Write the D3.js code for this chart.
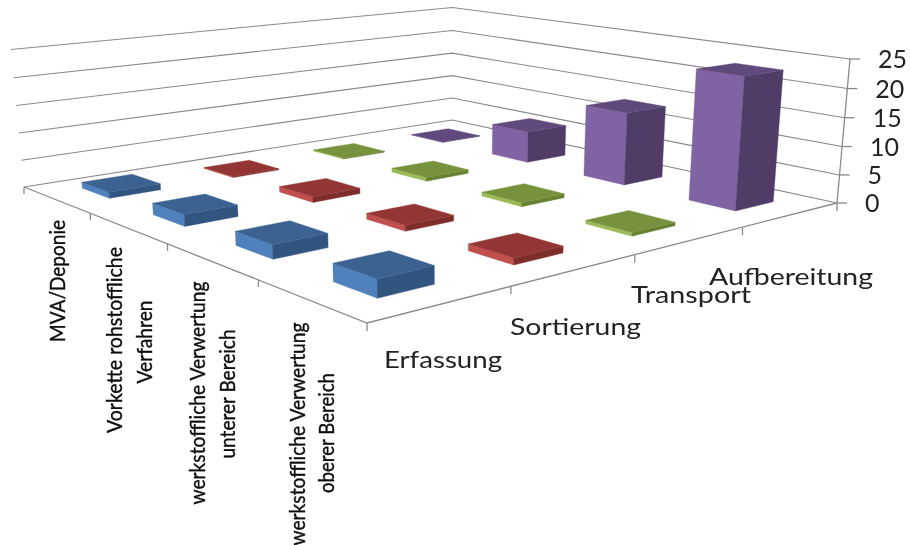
<!DOCTYPE html>
<html><head><meta charset="utf-8">
<script src="https://cdn.jsdelivr.net/npm/d3@7"></script>
<style>html,body{margin:0;padding:0;background:#fff}svg{display:block}</style>
</head><body><svg id="c" width="910" height="545"></svg>
<script>
// ---- data ----
const seriesNames = ["Erfassung","Sortierung","Transport","Aufbereitung"];
const categoryNames = ["MVA/Deponie","Vorkette rohstoffliche Verfahren","werkstoffliche Verwertung unterer Bereich","werkstoffliche Verwertung oberer Bereich"];
const erfassung = [1.1, 2.0, 2.3, 2.8];
const sortierung = [0.2, 1.0, 1.0, 1.1];
const transport = [0.2, 0.7, 0.7, 0.6];
const aufbereitung = [0.1, 6.0, 13.3, 23.0];
const valueTicks = [0,5,10,15,20,25];
const categoryLines = [["MVA/Deponie"],["Vorkette rohstoffliche","Verfahren"],["werkstoffliche Verwertung","unterer Bereich"],["werkstoffliche Verwertung","oberer Bereich"]];

// ---- styles / layout ----
const faceColors = [
 {left:"#4f81bd",top:"#3b6290",right:"#31547f"},
 {left:"#c0504d",top:"#943634",right:"#7d2e2c"},
 {left:"#9bbb59",top:"#76923c",right:"#668132"},
 {left:"#8064a2",top:"#604a7b",right:"#503e68"}];
const cam = {F:[367,323],R:[837,203],L:[24,187],B:[452,120],Rt:[850,59],Lt:[11,48]};
const catLabelLayout = [
 [{x:65,cy:281,len:122}],
 [{x:122,cy:340,len:186},{x:152,cy:342,len:83}],
 [{x:205,cy:393,len:223},{x:235,cy:394,len:129}],
 [{x:305,cy:434,len:223},{x:334,cy:433,len:120}]];
const seriesLabelLayout = [{x:384,y:368,len:118},{x:510,y:335,len:131},{x:631,y:303,len:120},{x:709,y:285,len:164}];

// ---- projection (homography from box corners) ----
const {F,R,L,B,Rt,Lt} = cam;
const det = (R[0]-B[0])*(L[1]-B[1])-(L[0]-B[0])*(R[1]-B[1]);
const a = ((F[0]-B[0])*(L[1]-B[1])-(L[0]-B[0])*(F[1]-B[1]))/det;
const b = ((R[0]-B[0])*(F[1]-B[1])-(F[0]-B[0])*(R[1]-B[1]))/det;
const vw = ((Lt[0]*b-L[0]*b)-(Rt[0]*a-R[0]*a))/(Rt[0]-Lt[0]);
const vx = Rt[0]*(a+vw)-a*R[0];
const vy = Rt[1]*(a+vw)-a*R[1];
function P(x,y,z){
  const X=F[0]+x*(a*R[0]-F[0])+y*(b*L[0]-F[0])+z*vx;
  const Y=F[1]+x*(a*R[1]-F[1])+y*(b*L[1]-F[1])+z*vy;
  const W=1+x*(a-1)+y*(b-1)+z*vw;
  return [X/W,Y/W];
}
const xBand = d3.scaleBand().domain(seriesNames).range([0,1]).paddingInner(0.6).paddingOuter(0.3);
const yBand = d3.scaleBand().domain(categoryNames.slice().reverse()).range([0,1]).paddingInner(0.6).paddingOuter(0.3);
const zScale = d3.scaleLinear().domain([0,25]).range([0,1]);
const xTick = d3.scaleLinear().domain([0,4]).range([0,1]);

const svg = d3.select("#c");
const defs = svg.append("defs");
defs.append("filter").attr("id","soft").attr("x","-5%").attr("y","-5%").attr("width","110%").attr("height","110%")
  .append("feGaussianBlur").attr("stdDeviation",0.55);
const g = svg.append("g").attr("filter","url(#soft)");
const line = d3.line();
const axisColor="#8a8a8a";

// walls
const grid = g.append("g").attr("fill","none").attr("stroke",axisColor).attr("stroke-width",1.1);
grid.selectAll("path").data(valueTicks).join("path")
  .attr("d",v=>{const z=zScale(v);return line([P(0,1,z),P(1,1,z),P(1,0,z)]);});

// axes
const axes = g.append("g").attr("fill","none").attr("stroke",axisColor).attr("stroke-width",1.3);
axes.append("path").attr("d",line([P(0,1,0),P(0,0,0),P(1,0,0)]));
axes.append("path").attr("d",line([P(1,0,0),P(1,0,1)]));
axes.selectAll(".tx").data(d3.range(0,5)).join("path").attr("class","tx")
  .attr("d",i=>{const p=P(xTick(i),0,0);return line([p,[p[0],p[1]+8]]);});
axes.selectAll(".ty").data(d3.range(1,5)).join("path").attr("class","ty")
  .attr("d",i=>{const p=P(0,xTick(i),0);return line([p,[p[0],p[1]+7]]);});
axes.selectAll(".tz").data(valueTicks).join("path").attr("class","tz")
  .attr("d",v=>{const p=P(1,0,zScale(v));return line([[p[0]-1,p[1]],[p[0]+10,p[1]]]);});

// bars
const allSeries=[erfassung,sortierung,transport,aufbereitung];
const bars=[];
seriesNames.forEach((s,si)=>categoryNames.forEach((c,ci)=>{
  bars.push({si,x0:xBand(s),x1:xBand(s)+xBand.bandwidth(),y0:yBand(c),y1:yBand(c)+yBand.bandwidth(),z:zScale(allSeries[si][ci])});
}));
bars.sort((p,q)=>((q.x0+q.y0)-(p.x0+p.y0)));
const barG=g.append("g").selectAll("g").data(bars).join("g");
function face(sel,key,fn){sel.append("path").attr("fill",d=>faceColors[d.si][key]).attr("stroke",d=>faceColors[d.si][key]).attr("stroke-width",0.4).attr("d",d=>line(fn(d))+"Z");}
face(barG,"left",d=>[P(d.x0,d.y0,0),P(d.x0,d.y1,0),P(d.x0,d.y1,d.z),P(d.x0,d.y0,d.z)]);
face(barG,"right",d=>[P(d.x0,d.y0,0),P(d.x1,d.y0,0),P(d.x1,d.y0,d.z),P(d.x0,d.y0,d.z)]);
face(barG,"top",d=>[P(d.x0,d.y0,d.z),P(d.x1,d.y0,d.z),P(d.x1,d.y1,d.z),P(d.x0,d.y1,d.z)]);

// text
const txt=svg.append("g").attr("fill","#222").attr("font-family","Lato, 'Open Sans', sans-serif").attr("filter","url(#soft)");
txt.selectAll(".v").data(valueTicks).join("text").attr("class","v")
  .attr("font-size",25)
  .attr("x",v=>P(1,0,zScale(v))[0]+28).attr("y",v=>P(1,0,zScale(v))[1]+9)
  .attr("textLength",v=>String(v).length*14.5).attr("lengthAdjust","spacingAndGlyphs")
  .text(v=>v);
txt.selectAll(".s").data(seriesNames).join("text").attr("class","s")
  .attr("font-size",24)
  .attr("x",(d,i)=>seriesLabelLayout[i].x).attr("y",(d,i)=>seriesLabelLayout[i].y)
  .attr("textLength",(d,i)=>seriesLabelLayout[i].len).attr("lengthAdjust","spacingAndGlyphs")
  .text(d=>d);
categoryLines.forEach((lines,ci)=>lines.forEach((t,li)=>{
  const l=catLabelLayout[ci][li];
  txt.append("text").attr("font-size",22).attr("text-anchor","middle")
    .attr("stroke","#111").attr("stroke-width",0.4).attr("fill","#111")
    .attr("transform",`translate(${l.x},${l.cy}) rotate(-90)`)
    .attr("textLength",l.len).attr("lengthAdjust","spacingAndGlyphs").text(t);
}));
</script></body></html>
